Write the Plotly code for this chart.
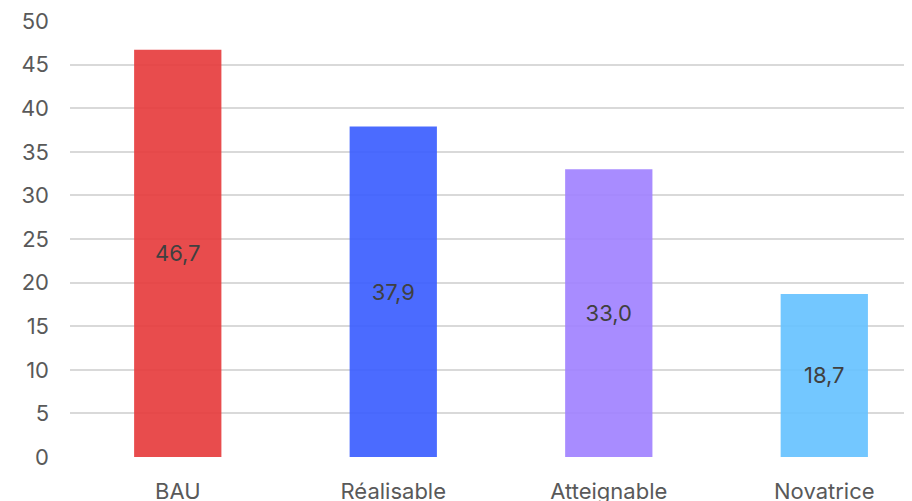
import plotly.graph_objects as go

categories = ["BAU", "Réalisable", "Atteignable", "Novatrice"]
values = [46.7, 37.9, 33.0, 18.7]
labels = ["46,7", "37,9", "33,0", "18,7"]
colors = ["rgba(229,56,58,0.9)", "rgba(55,91,255,0.9)", "rgba(158,127,255,0.9)", "rgba(100,193,255,0.9)"]

fig = go.Figure(go.Bar(
    x=categories, y=values, text=labels,
    textposition="inside", insidetextanchor="middle",
    textfont=dict(family="Inter", size=22, color="#404040"),
    marker=dict(color=colors, line=dict(width=0)),
    width=0.405, textangle=0,
))

fig.update_layout(
    width=912, height=501,
    margin=dict(l=62, r=8, t=13, b=52),
    paper_bgcolor="white", plot_bgcolor="white",
    showlegend=False,
    font=dict(family="Inter", size=22, color="#595959"),
)
fig.update_xaxes(range=[-0.5, 3.407], showgrid=False, showline=False, zeroline=False,
                 ticks="", ticklabelstandoff=19, automargin=False, ticklabeloverflow="allow",
                 tickfont=dict(size=22, color="#595959"))
fig.update_yaxes(range=[0, 50], dtick=5, showgrid=True, gridcolor="#d9d9d9", gridwidth=1.5,
                 zeroline=False, showline=False, ticks="", ticklabelstandoff=20, automargin=False,
                 ticklabeloverflow="allow",
                 tickfont=dict(size=22, color="#595959"), layer="above traces")

fig.write_html("out.html")
